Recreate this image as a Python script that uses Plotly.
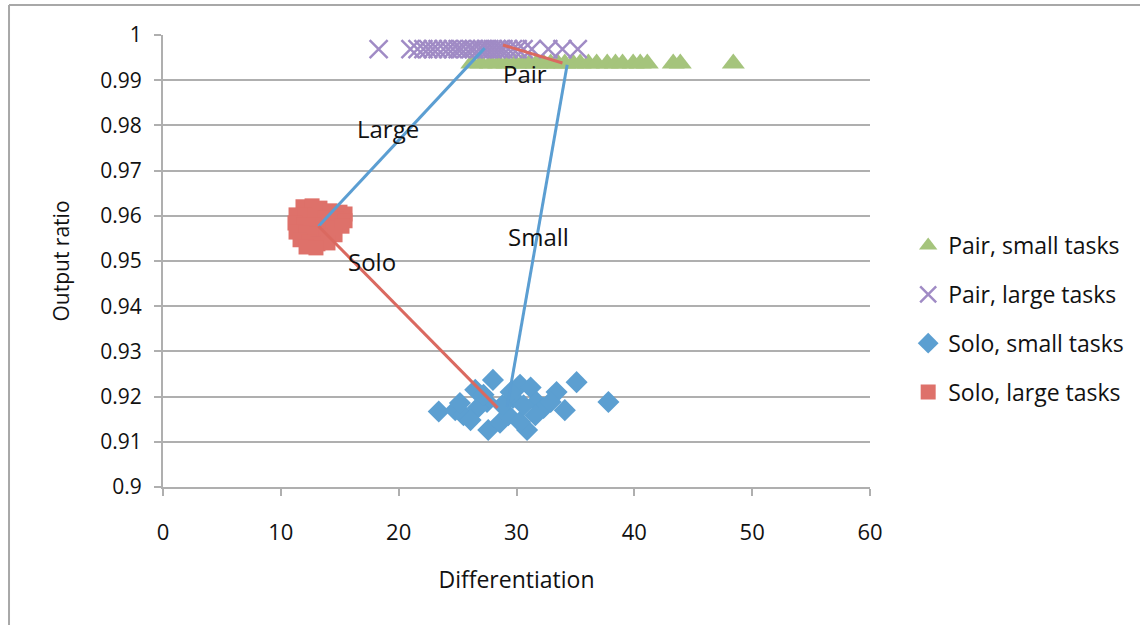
import plotly.graph_objects as go

# ---- data -------------------------------------------------------------
pair_small_x = [26.2, 27.0, 27.8, 28.5, 29.2, 29.9, 30.5, 31.1, 31.7, 32.3, 32.9,
                33.5, 34.1, 34.8, 35.4, 36.1, 36.8, 37.7, 38.4, 39.0, 39.9, 40.5,
                41.1, 43.3, 43.9, 48.4]
pair_small_y = [0.9937] * len(pair_small_x)

pair_large_x = [18.3, 21.0, 21.6, 22.1, 22.5, 22.9, 23.3, 23.8, 24.2, 24.6, 25.0,
                25.3, 25.7, 26.1, 26.4, 26.8, 27.1, 27.4, 27.7, 28.0, 28.3, 28.6,
                28.9, 29.3, 29.7, 30.1, 30.6, 31.3, 32.7, 33.9, 35.2]
pair_large_y = [0.9969] * len(pair_large_x)

solo_small_x = [23.4, 24.8, 25.5, 26.5, 28.0, 27.5, 26.7, 27.6, 26.1, 28.6, 29.3,
                30.3, 31.2, 30.9, 30.3, 31.7, 32.3, 31.6, 33.4, 34.1, 35.1, 37.8,
                29.7, 28.8, 30.6, 32.9, 25.2, 27.2, 29.5]
solo_small_y = [0.9167, 0.9170, 0.9159, 0.9215, 0.9237, 0.9188, 0.9175, 0.9126,
                0.9148, 0.9142, 0.9159, 0.9226, 0.9220, 0.9126, 0.9144, 0.9188,
                0.9175, 0.9159, 0.9210, 0.9170, 0.9232, 0.9188, 0.9197, 0.9181,
                0.9181, 0.9188, 0.9186, 0.9204, 0.9210]

solo_large_x = [11.88, 12.65, 13.32, 14.17, 15.02, 15.45, 11.29, 12.05, 12.90,
                13.75, 14.68, 15.45, 11.20, 11.97, 12.81, 13.58, 14.43, 15.19,
                11.29, 12.14, 12.98, 13.83, 14.60, 11.63, 12.39, 13.15, 14.00,
                12.14, 12.98]
solo_large_y = [0.9620, 0.9622, 0.9617, 0.9611, 0.9608, 0.9604, 0.9602, 0.9602,
                0.9600, 0.9595, 0.9593, 0.9589, 0.9584, 0.9580, 0.9580, 0.9575,
                0.9573, 0.9577, 0.9564, 0.9562, 0.9560, 0.9555, 0.9558, 0.9547,
                0.9542, 0.9538, 0.9540, 0.9531, 0.9529]

# group means joined by connector lines
large_line_x = [13.2, 27.3]
large_line_y = [0.9577, 0.9971]
small_line_x = [29.2, 34.3]
small_line_y = [0.9177, 0.9934]
solo_line_x = [13.2, 28.4]
solo_line_y = [0.9577, 0.9175]
pair_line_x = [28.85, 33.9]
pair_line_y = [0.9978, 0.9938]

y_ticks = [0.9, 0.91, 0.92, 0.93, 0.94, 0.95, 0.96, 0.97, 0.98, 0.99, 1.0]
y_tick_labels = ["0.9", "0.91", "0.92", "0.93", "0.94", "0.95", "0.96", "0.97",
                 "0.98", "0.99", "1"]
x_ticks = [0, 10, 20, 30, 40, 50, 60]

# ---- styling ----------------------------------------------------------
FONT = "Open Sans"
GREEN = "#A5C47C"
PURPLE = "#A08BC5"
BLUE = "#5C9FD1"
RED = "#DE716A"
BLUE_LINE = "#5B9ED2"
RED_LINE = "#DA6960"
GRID = "#AFAFAF"

fig = go.Figure()

fig.add_trace(go.Scatter(
    x=pair_small_x, y=pair_small_y, mode="markers", name="Pair, small tasks",
    legendgroup="a",
    marker=dict(symbol="triangle-up", size=20, color=GREEN, line=dict(width=0))))
fig.add_trace(go.Scatter(
    x=pair_large_x, y=pair_large_y, mode="markers", name="Pair, large tasks",
    legendgroup="b",
    marker=dict(symbol="x-thin-open", size=18, color=PURPLE,
                line=dict(width=2.5, color=PURPLE))))
fig.add_trace(go.Scatter(
    x=solo_small_x, y=solo_small_y, mode="markers", name="Solo, small tasks",
    legendgroup="c",
    marker=dict(symbol="diamond", size=17, color=BLUE, line=dict(width=0))))
fig.add_trace(go.Scatter(
    x=solo_large_x, y=solo_large_y, mode="markers", name="Solo, large tasks",
    legendgroup="d",
    marker=dict(symbol="square", size=15, color=RED, line=dict(width=0))))

for lx, ly, col in [(large_line_x, large_line_y, BLUE_LINE),
                    (small_line_x, small_line_y, BLUE_LINE),
                    (solo_line_x, solo_line_y, RED_LINE),
                    (pair_line_x, pair_line_y, RED_LINE)]:
    fig.add_trace(go.Scatter(x=lx, y=ly, mode="lines", showlegend=False,
                             line=dict(color=col, width=3), hoverinfo="skip"))

labels = [("Pair", 30.72, 0.99159), ("Large", 19.10, 0.97942),
          ("Small", 31.9, 0.95553), ("Solo", 17.75, 0.94978)]
for txt, ax, ay in labels:
    fig.add_annotation(x=ax, y=ay, text=txt, showarrow=False,
                       font=dict(family=FONT, size=24, color="#111111"))

# outer frame of the chart area
fig.add_shape(type="line", xref="paper", yref="paper",
              x0=-0.2178, x1=1.40, y0=1.0664, y1=1.0664,
              line=dict(color="#A8A8A8", width=2))
fig.add_shape(type="line", xref="paper", yref="paper",
              x0=-0.2178, x1=-0.2178, y0=1.0664, y1=-0.32,
              line=dict(color="#A8A8A8", width=2))

fig.update_layout(
    width=1140, height=625,
    margin=dict(l=163, r=270, t=35, b=138, autoexpand=False),
    paper_bgcolor="white", plot_bgcolor="white",
    font=dict(family=FONT, size=21, color="#111111"),
    showlegend=True,
    legend=dict(x=1.054, y=0.582, xanchor="left", yanchor="top",
                font=dict(family=FONT, size=23, color="#111111"),
                tracegroupgap=16, bgcolor="rgba(0,0,0,0)"),
    xaxis=dict(range=[0, 60], tickvals=x_ticks, showgrid=False, zeroline=False,
               showline=True, linecolor=GRID, linewidth=2,
               ticks="outside", ticklen=7, tickwidth=2, tickcolor=GRID,
               ticklabelstandoff=18, tickfont=dict(size=22),
               title=dict(text="Differentiation", standoff=26,
                          font=dict(family=FONT, size=23))),
    yaxis=dict(range=[0.9, 1.0], tickvals=y_ticks, ticktext=y_tick_labels,
               showgrid=True, gridcolor=GRID, gridwidth=2, zeroline=False,
               showline=True, linecolor=GRID, linewidth=2,
               ticks="outside", ticklen=7, tickwidth=2, tickcolor=GRID,
               ticklabelstandoff=8, tickfont=dict(size=21),
               title=dict(text="Output ratio", standoff=25,
                          font=dict(family=FONT, size=21))),
)

fig.write_html("out.html")
